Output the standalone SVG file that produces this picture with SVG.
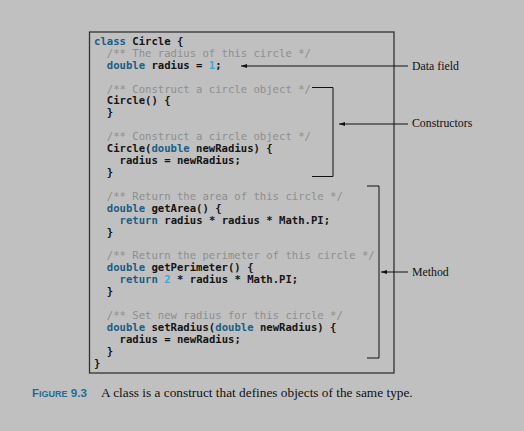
<svg xmlns="http://www.w3.org/2000/svg" width="524" height="431" viewBox="0 0 524 431">
<defs>
<style>
.code{font-family:"DejaVu Sans Mono","Liberation Mono",monospace;font-size:10.6px;font-weight:bold;fill:#151515}
.cm{fill:#8e8e8e;font-weight:normal}
.kw{fill:#1b5e86}
.num{fill:#3aa7df}
.lbl{font-family:"Liberation Serif","Times New Roman",serif;font-size:11.8px;fill:#111}
.ln{stroke:#111;stroke-width:1;fill:none}
.cap{font-family:"Liberation Serif","Times New Roman",serif;font-size:13.3px;fill:#111}
.fig{font-family:"Liberation Sans",Arial,sans-serif;font-weight:bold;fill:#1f6d94}
</style>
<marker id="ah" viewBox="0 0 10 10" refX="10" refY="5" markerWidth="8" markerHeight="6" markerUnits="userSpaceOnUse" orient="auto">
<path d="M0,1.5 L10,5 L0,8.5 Z" fill="#111"/>
</marker>
</defs>
<rect x="0" y="0" width="524" height="431" fill="#c0c0c0"/>
<g id="codebox">
<rect x="89.5" y="32" width="304.5" height="341" fill="#c0c0c0" stroke="#333" stroke-width="1.3"/>
<text class="code">
<tspan x="94" y="44.8"><tspan class="kw">class</tspan> Circle {</tspan>
<tspan x="106.8" y="56.7" class="cm">/** The radius of this circle */</tspan>
<tspan x="106.8" y="68.6"><tspan class="kw">double</tspan> radius = <tspan class="num">1</tspan>;</tspan>
<tspan x="106.8" y="92.5" class="cm">/** Construct a circle object */</tspan>
<tspan x="106.8" y="104.4">Circle() {</tspan>
<tspan x="106.8" y="116.3">}</tspan>
<tspan x="106.8" y="140.2" class="cm">/** Construct a circle object */</tspan>
<tspan x="106.8" y="152.1">Circle(<tspan class="kw">double</tspan> newRadius) {</tspan>
<tspan x="119.6" y="164">radius = newRadius;</tspan>
<tspan x="106.8" y="175.9">}</tspan>
<tspan x="106.8" y="199.8" class="cm">/** Return the area of this circle */</tspan>
<tspan x="106.8" y="211.7"><tspan class="kw">double</tspan> getArea() {</tspan>
<tspan x="119.6" y="223.6"><tspan class="kw">return</tspan> radius * radius * Math.PI;</tspan>
<tspan x="106.8" y="235.5">}</tspan>
<tspan x="106.8" y="259.4" class="cm">/** Return the perimeter of this circle */</tspan>
<tspan x="106.8" y="271.3"><tspan class="kw">double</tspan> getPerimeter() {</tspan>
<tspan x="119.6" y="283.2"><tspan class="kw">return</tspan> <tspan class="num">2</tspan> * radius * Math.PI;</tspan>
<tspan x="106.8" y="295.1">}</tspan>
<tspan x="106.8" y="319" class="cm">/** Set new radius for this circle */</tspan>
<tspan x="106.8" y="330.9"><tspan class="kw">double</tspan> setRadius(<tspan class="kw">double</tspan> newRadius) {</tspan>
<tspan x="119.6" y="342.8">radius = newRadius;</tspan>
<tspan x="106.8" y="354.7">}</tspan>
<tspan x="94" y="366.6">}</tspan>
</text>
</g>
<g id="label-datafield"><text class="lbl" x="412" y="70">Data field</text></g>
<g id="label-constructors"><text class="lbl" x="412" y="127">Constructors</text></g>
<g id="label-method"><text class="lbl" x="412" y="276">Method</text></g>
<g id="connectors">
<path class="ln" d="M312,87.5 H333 V176.5 H312"/>
<path class="ln" d="M367,186 H379 V358 H367"/>
<line class="ln" x1="408" y1="66" x2="241" y2="66" marker-end="url(#ah)"/>
<line class="ln" x1="408" y1="124" x2="339" y2="124" marker-end="url(#ah)"/>
<line class="ln" x1="408" y1="272" x2="381" y2="272" marker-end="url(#ah)"/>
</g>
<g id="caption">
<text x="32" y="396.5" class="fig"><tspan font-size="11.6">F</tspan><tspan font-size="9">IGURE</tspan><tspan font-size="11.6"> 9.3</tspan></text>
<text x="101" y="396.5" class="cap">A class is a construct that defines objects of the same type.</text>
</g>
</svg>
